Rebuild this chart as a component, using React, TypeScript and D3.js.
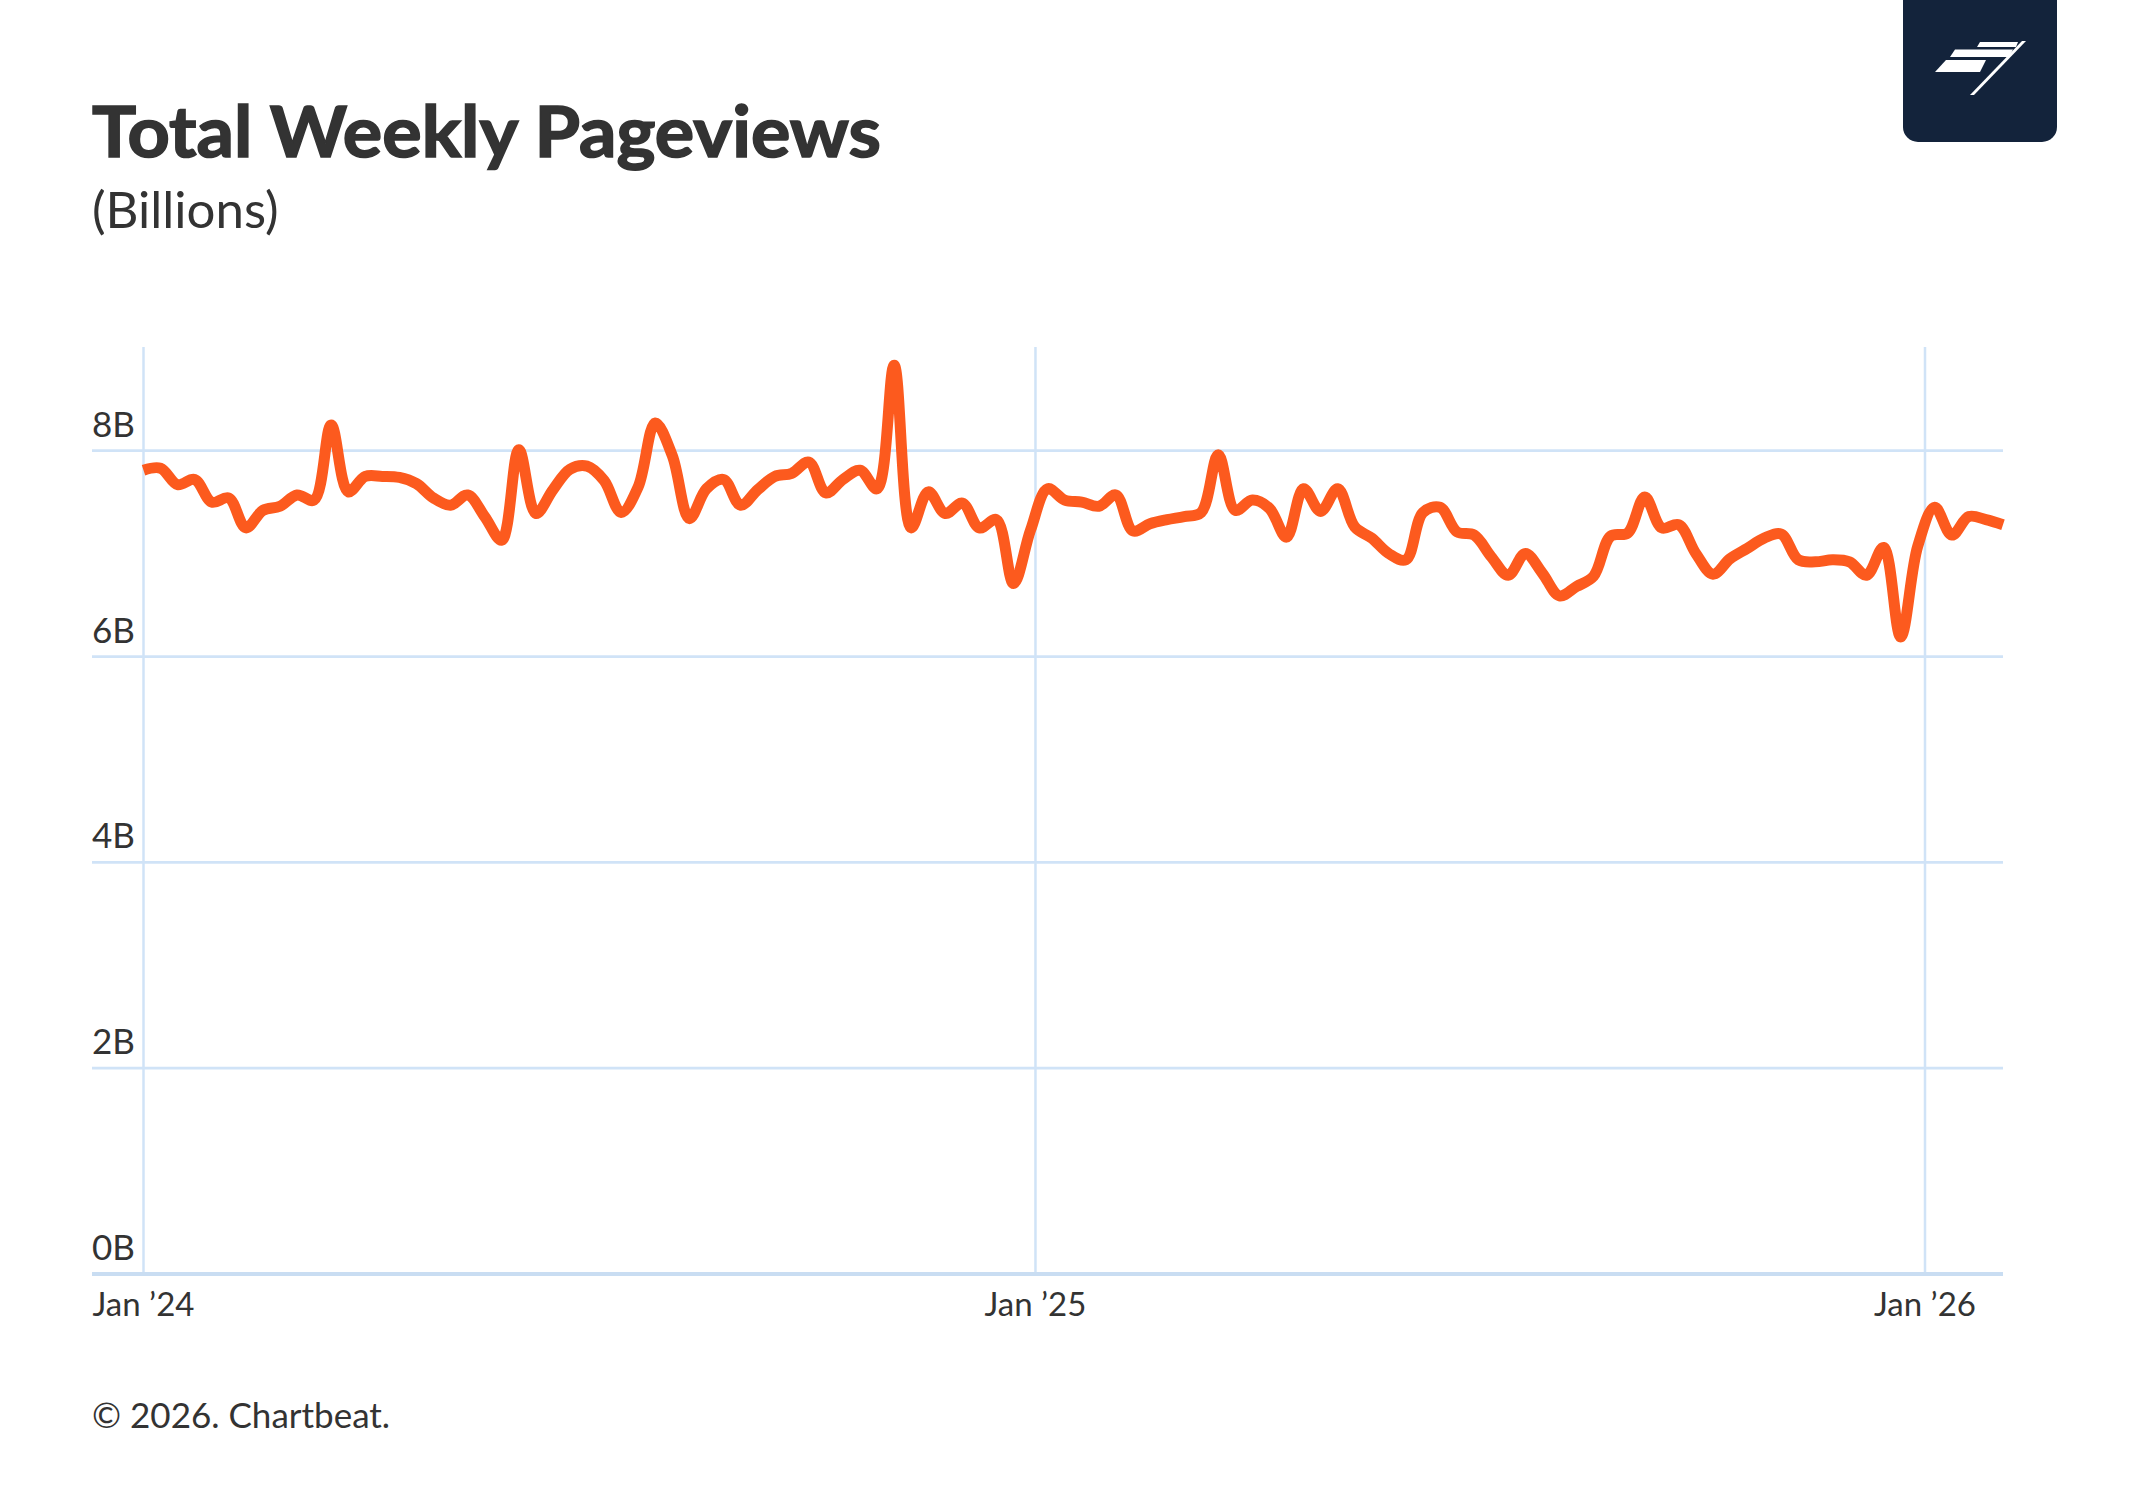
import React from 'react'
import * as d3 from 'd3'

// weekly totals in billions, weeks starting Monday
const firstWeek = '2024-01-01'

const pageviews2024 = [
  7.81, 7.83, 7.67, 7.72, 7.5, 7.54, 7.25, 7.42, 7.46, 7.57, 7.52, 8.25, 7.6,
  7.75, 7.75, 7.74, 7.68, 7.54, 7.47, 7.57, 7.36, 7.13, 8.01, 7.39, 7.62, 7.82,
  7.85, 7.71, 7.4, 7.65, 8.27, 7.95, 7.34, 7.63, 7.72, 7.47, 7.62, 7.75, 7.78,
  7.89, 7.59, 7.72, 7.81, 7.63, 8.83, 7.25, 7.6, 7.39, 7.49, 7.25, 7.33, 6.71,
  7.23,
]

const pageviews2025 = [
  7.63, 7.52, 7.5, 7.46, 7.57, 7.22, 7.29, 7.33, 7.36, 7.4, 7.96, 7.42, 7.52,
  7.44, 7.16, 7.63, 7.41, 7.63, 7.26, 7.15, 7.0, 6.94, 7.4, 7.45, 7.21, 7.18,
  6.97, 6.79, 7.0, 6.81, 6.59, 6.68, 6.78, 7.17, 7.2, 7.55, 7.25, 7.28, 7.0,
  6.8, 6.95, 7.05, 7.15, 7.19, 6.94, 6.92, 6.94, 6.92, 6.79, 7.06, 6.19, 7.07,
]

const pageviews2026 = [7.45, 7.18, 7.36, 7.33, 7.28]

const yTicks = [0, 2, 4, 6, 8]
const xTickDates = ['2024-01-01', '2025-01-01', '2026-01-01']
const xTickLabels = ['Jan ’24', 'Jan ’25', 'Jan ’26']

const parse = d3.utcParse('%Y-%m-%d')
const FONT = 'Lato, "Source Sans Pro", "Noto Sans", sans-serif'

function App() {
  const width = 2142
  const height = 1488
  const plotLeft = 92
  const plotRight = 2003

  const start = parse(firstWeek) as Date
  const values = [...pageviews2024, ...pageviews2025, ...pageviews2026]
  const data = values.map((v, i) => ({date: d3.utcDay.offset(start, 7 * i), value: v}))

  const x = d3
    .scaleUtc()
    .domain([parse('2024-01-01') as Date, parse('2026-01-01') as Date])
    .range([143.5, 1925])
  const y = d3.scaleLinear().domain([0, 8]).range([1274, 450.7])

  const line = d3
    .line<{date: Date; value: number}>()
    .x(d => x(d.date))
    .y(d => y(d.value))
    .curve(d3.curveCatmullRom.alpha(0.5))

  return (
    <svg
      width={width}
      height={height}
      style={{position: 'absolute', left: 0, top: 0, background: '#fff'}}
      fontFamily={FONT}>
      <rect width={width} height={height} fill="#fff" />

      {/* title */}
      <text
        x={92}
        y={157}
        fontSize={71}
        fontWeight={700}
        fill="#333"
        stroke="#333"
        strokeWidth={1.6}
        textLength={789}
        lengthAdjust="spacingAndGlyphs">
        Total Weekly Pageviews
      </text>
      <text x={92} y={228} fontSize={51} fill="#333">
        (Billions)
      </text>

      {/* logo */}
      <rect x={1903} y={-20} width={154} height={162} rx={15} fill="#13233b" />
      <g fill="#fff">
        <polygon points="1980,42 2018,42 2016,47 1977,47" />
        <polygon points="1955,49.5 2013,49.5 2009,57 1950,57" />
        <polygon points="1946,60 1986,60 1980,72 1935,72" />
        <polygon points="2022,41 2026,41 1974,95 1970,95" />
      </g>

      {/* vertical grid */}
      {xTickDates.map(d => (
        <line
          key={d}
          x1={x(parse(d) as Date)}
          x2={x(parse(d) as Date)}
          y1={347}
          y2={1274}
          stroke="#d0e3f7"
          strokeWidth={2.5}
        />
      ))}

      {/* horizontal grid + labels */}
      {yTicks.map(t => (
        <g key={t}>
          <line
            x1={plotLeft}
            x2={plotRight}
            y1={y(t)}
            y2={y(t)}
            stroke={t === 0 ? '#c9ddf2' : '#d0e3f7'}
            strokeWidth={t === 0 ? 4 : 2.8}
          />
          <text x={plotLeft} y={y(t) - 14} fontSize={35} fill="#333">
            {`${t}B`}
          </text>
        </g>
      ))}

      {/* x labels */}
      {xTickDates.map((d, i) => (
        <text
          key={d}
          x={x(parse(d) as Date)}
          y={1316}
          fontSize={33}
          fill="#333"
          textAnchor="middle">
          {xTickLabels[i]}
        </text>
      ))}

      <path
        d={line(data) || ''}
        fill="none"
        stroke="#fc5a1e"
        strokeWidth={11}
        strokeLinejoin="round"
        strokeLinecap="butt"
      />

      <text x={92} y={1428} fontSize={35} fill="#333">
        © 2026. Chartbeat.
      </text>
    </svg>
  )
}

export default App
